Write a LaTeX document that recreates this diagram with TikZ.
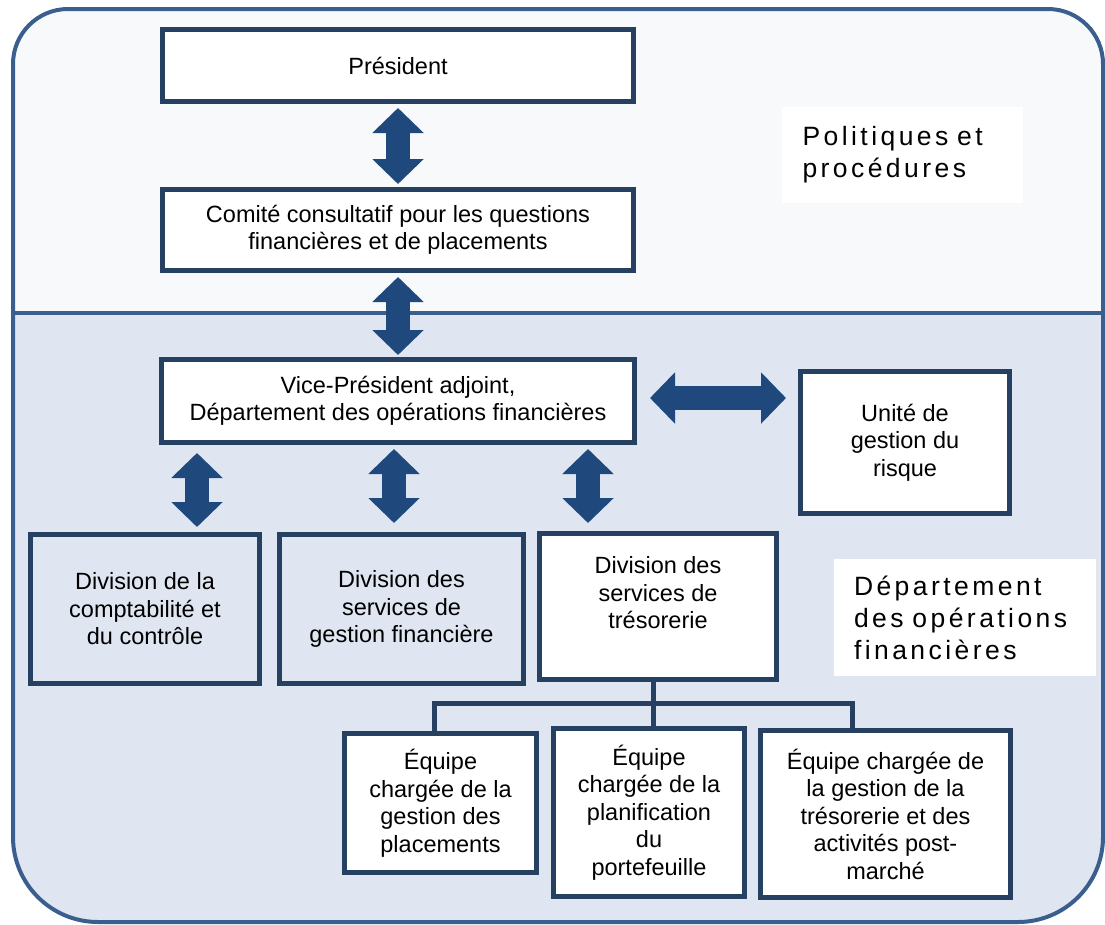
\documentclass[tikz,border=0pt]{standalone}
\usepackage{fontspec}
\setmainfont{Liberation Sans}
\newfontfamily\tagfont[LetterSpace=13]{Liberation Sans}
\usetikzlibrary{arrows.meta}

\definecolor{frameblue}{RGB}{58,95,142}
\definecolor{boxline}{RGB}{38,64,97}
\definecolor{arrowblue}{RGB}{31,73,125}
\definecolor{topfill}{RGB}{247,249,251}
\definecolor{lowfill}{RGB}{223,230,242}

\tikzset{
  box/.style={draw=boxline, line width=5pt, fill=white, align=center, inner sep=0pt,
    font=\fontsize{23.5}{27.5}\selectfont},
  openbox/.style={box, fill=none},
  dblarrow/.style={draw=arrowblue, line width=24pt,
    {Triangle[width=50pt,length=25pt]}-{Triangle[width=50pt,length=25pt]}},
  tree/.style={draw=boxline, line width=5pt},
  tag/.style={fill=white, align=left, inner sep=0pt,
    font=\tagfont\fontsize{26.5}{32}\selectfont}
}

\begin{document}
\begin{tikzpicture}[x=1pt,y=-1pt]

\def\fl{13}
\def\fr{1103}
\def\ft{9}
\def\fb{922}
\def\fm{313}

\path [use as bounding box] (0,0) rectangle (1105,924);

% FRAME
\path [fill=topfill, draw=frameblue, line width=4pt, rounded corners=55pt]
  (\fl,\fm) -- (\fl,\ft) -- (\fr,\ft) -- (\fr,\fm);
\path [fill=lowfill, draw=frameblue, line width=4pt, rounded corners=85pt]
  (\fl,\fm) -- (\fl,\fb) -- (\fr,\fb) -- (\fr,\fm);
\draw [frameblue, line width=4pt] (\fl,\fm) -- (\fr,\fm);

% TAGS
\node [tag, minimum width=241pt, minimum height=96pt, text width=200pt] (politiques) at (902.5,155)
  {Politiques et\\procédures};
\node [tag, minimum width=262pt, minimum height=117pt, text width=222pt] (departement) at (965,617.5)
  {Département\\des opérations\\financières};

% BOXES
\node [box, minimum width=471pt, minimum height=72pt] (pres) at (398,65.5) {Président};
\node [box, minimum width=471pt, minimum height=81pt] (com) at (398,230)
  {Comité consultatif pour les questions\\financières et de placements};
\node [box, minimum width=473pt, minimum height=83pt] (vp) at (398,401)
  {Vice-Président adjoint,\\Département des opérations financières};
\node [box, minimum width=209pt, minimum height=142pt] (risk) at (905,442.5)
  {Unité de\\gestion du\\risque};
\node [openbox, minimum width=229pt, minimum height=149pt] (compta) at (145,609)
  {Division de la\\comptabilité et\\du contrôle};
\node [openbox, minimum width=244pt, minimum height=149pt] (gestfin) at (401.5,609)
  {Division des\\services de\\gestion financière};
\node [box, minimum width=237pt, minimum height=146pt] (treso) at (658,606.5)
  {Division des\\services de\\trésorerie\\~};
\node [box, minimum width=192pt, minimum height=139pt] (eq1) at (440.5,803)
  {Équipe\\chargée de la\\gestion des\\placements};
\node [box, minimum width=191pt, minimum height=168pt] (eq2) at (649,812.5)
  {Équipe\\chargée de la\\planification\\du\\portefeuille};
\node [box, minimum width=250pt, minimum height=167pt] (eq3) at (885.5,814)
  {Équipe chargée de\\la gestion de la\\trésorerie et des\\activités post-\\marché};

% ARROWS
\coordinate (a1) at (197,0);
\coordinate (a2) at (394,0);
\coordinate (a3) at (588,0);
\coordinate (h) at (0,398);
\draw [dblarrow, shorten <=4pt, shorten >=3pt] (pres) -- (com);
\draw [dblarrow, shorten <=4pt, shorten >=2pt] (com) -- (vp);
\draw [dblarrow, shorten <=13pt, shorten >=12pt] (vp.east |- h) -- (risk.west |- h);
\draw [dblarrow, shorten <=8pt, shorten >=5pt] (vp.south -| a1) -- (compta.north -| a1);
\draw [dblarrow, shorten <=4pt, shorten >=9pt] (vp.south -| a2) -- (gestfin.north -| a2);
\draw [dblarrow, shorten <=4pt, shorten >=8pt] (vp.south -| a3) -- (treso.north -| a3);

% TREE
\coordinate (busL) at (434,703);
\coordinate (mid) at (653,703);
\coordinate (busR) at (852,703);
\draw [tree] (treso.south -| mid) -- (eq2.north -| mid);
\draw [tree] (busL |- eq1.north) -- (busL) -- (busR) -- (busR |- eq3.north);

\end{tikzpicture}
\end{document}
